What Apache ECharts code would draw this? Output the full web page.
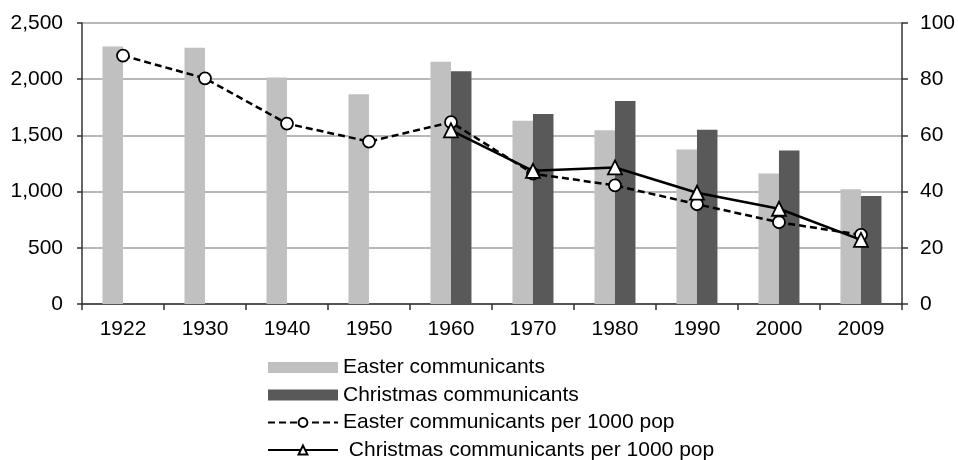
<!DOCTYPE html>
<html>
<head>
<meta charset="utf-8">
<script src="https://cdn.jsdelivr.net/npm/echarts@6/dist/echarts.min.js"></script>
<style>
html,body{margin:0;padding:0;background:#fff;}
#chart{width:958px;height:460px;}
</style>
</head>
<body>
<div id="chart"></div>
<script>
var years = ['1922','1930','1940','1950','1960','1970','1980','1990','2000','2009'];
var easterCommunicants = [2290, 2280, 2015, 1865, 2155, 1630, 1545, 1375, 1160, 1020];
var christmasCommunicants = [null, null, null, null, 2070, 1690, 1805, 1550, 1365, 960];
var easterPer1000 = [88.4, 80.3, 64.2, 57.8, 64.7, 46.4, 42.2, 35.5, 29.1, 24.6];
var christmasPer1000 = [null, null, null, null, 61.8, 47.4, 48.6, 39.6, 33.9, 22.8];
var leftTicks = {min: 0, max: 2500, interval: 500};
var rightTicks = {min: 0, max: 100, interval: 20};

var font = '"Liberation Sans", Arial, sans-serif';
var chart = echarts.init(document.getElementById('chart'), null, {renderer: 'canvas'});
chart.setOption({
  animation: false,
  backgroundColor: '#fff',
  textStyle: {fontFamily: font},
  grid: {left: 82, right: 55, top: 23, bottom: 156, containLabel: false},
  legend: {
    orient: 'vertical',
    left: 267,
    top: 357,
    height: 200,
    padding: 0,
    itemWidth: 70,
    itemHeight: 11,
    itemGap: 6.5,
    textStyle: {fontFamily: font, fontSize: 21, lineHeight: 20, color: '#000'},
    data: [
      {name: 'Easter communicants', icon: 'rect'},
      {name: 'Christmas communicants', icon: 'rect'},
      {name: 'Easter communicants per 1000 pop'},
      {name: ' Christmas communicants per 1000 pop'}
    ]
  },
  xAxis: {
    type: 'category',
    data: years,
    boundaryGap: true,
    axisLine: {show: true, lineStyle: {color: '#333', width: 1.5}},
    axisTick: {show: true, alignWithLabel: false, length: 6, lineStyle: {color: '#333', width: 1.5}},
    axisLabel: {color: '#000', fontSize: 21, fontFamily: font, margin: 15},
    splitLine: {show: false}
  },
  yAxis: [
    {
      type: 'value',
      min: leftTicks.min, max: leftTicks.max, interval: leftTicks.interval,
      axisLine: {show: true, lineStyle: {color: '#333', width: 1.5}},
      axisTick: {show: true, length: 5, lineStyle: {color: '#333', width: 1.5}},
      axisLabel: {color: '#000', fontSize: 21, fontFamily: font, margin: 19,
        formatter: function (v) { return v.toLocaleString('en-US'); }},
      splitLine: {show: true, lineStyle: {color: '#a0a0a0', width: 1.5}}
    },
    {
      type: 'value',
      position: 'right',
      min: rightTicks.min, max: rightTicks.max, interval: rightTicks.interval,
      axisLine: {show: true, lineStyle: {color: '#333', width: 1.5}},
      axisTick: {show: true, length: 6, lineStyle: {color: '#333', width: 1.5}},
      axisLabel: {color: '#000', fontSize: 21, fontFamily: font, margin: 18},
      splitLine: {show: false}
    }
  ],
  series: [
    {
      name: 'Easter communicants',
      type: 'bar',
      data: easterCommunicants,
      barGap: '0%',
      barCategoryGap: '50%',
      itemStyle: {color: '#c0c0c0'},
      z: 2
    },
    {
      name: 'Christmas communicants',
      type: 'bar',
      data: christmasCommunicants,
      barGap: '0%',
      barCategoryGap: '50%',
      itemStyle: {color: '#595959'},
      z: 2
    },
    {
      name: 'Easter communicants per 1000 pop',
      type: 'line',
      yAxisIndex: 1,
      data: easterPer1000,
      symbol: 'circle',
      symbolSize: 12,
      showAllSymbol: true,
      itemStyle: {color: '#fff', borderColor: '#000', borderWidth: 1.8},
      lineStyle: {color: '#000', width: 2.5, type: [7, 4]},
      z: 4
    },
    {
      name: ' Christmas communicants per 1000 pop',
      type: 'line',
      yAxisIndex: 1,
      data: christmasPer1000,
      symbol: 'triangle',
      symbolSize: 14,
      showAllSymbol: true,
      itemStyle: {color: '#fff', borderColor: '#000', borderWidth: 1.8},
      lineStyle: {color: '#000', width: 2.5, type: 'solid'},
      z: 5
    }
  ]
});
</script>
</body>
</html>
